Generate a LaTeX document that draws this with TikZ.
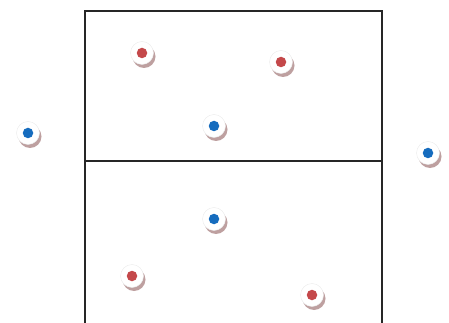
\documentclass[tikz,border=0pt]{standalone}
\begin{document}
\begin{tikzpicture}[x=1pt,y=-1pt,
  disc/.style={circle,fill=white,minimum size=23pt,inner sep=0pt,draw=black!8,line width=0.4pt},
  shade/.style={circle,fill=shadowc,minimum size=23pt,inner sep=0pt},
  rdot/.style={circle,fill=redc,minimum size=10.5pt,inner sep=0pt},
  bdot/.style={circle,fill=bluec,minimum size=10.5pt,inner sep=0pt}]
\definecolor{shadowc}{RGB}{190,160,160}
\definecolor{redc}{RGB}{196,72,74}
\definecolor{bluec}{RGB}{22,108,190}
\useasboundingbox (0,0) rectangle (449,323);
\draw[line width=1.3pt,black!85] (85,326) -- (85,11) -- (382,11) -- (382,326);
\draw[line width=1.3pt,black!85] (85,161) -- (382,161);
\foreach \n/\x/\y/\s in {r1/142/53/rdot, r2/281/62/rdot, r3/132/276/rdot, r4/312/295/rdot,
  b1/214/126/bdot, b2/214/219/bdot, b3/28/133/bdot, b4/428/153/bdot}{
  \node[shade] (\n s) at (\x+2,\y+3.5) {};
  \node[disc] (\n d) at (\x,\y) {};
  \node[\s] (\n) at (\x,\y) {};
}
\end{tikzpicture}
\end{document}
